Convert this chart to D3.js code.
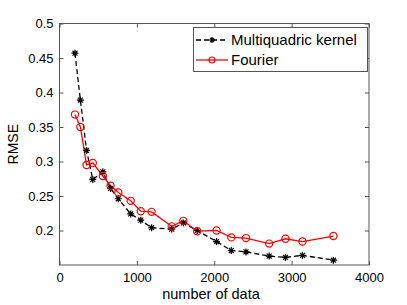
<!DOCTYPE html>
<html><head><meta charset="utf-8">
<script src="https://cdn.jsdelivr.net/npm/d3@7"></script>
<style>body{margin:0;background:#fff}svg{display:block}text{font-family:"Liberation Sans",Arial,sans-serif}</style>
</head><body><svg id="c" width="407" height="305"></svg>
<script>
const xData = [200, 270, 350, 430, 560, 660, 760, 920, 1050, 1190, 1450, 1600, 1780, 2030, 2220, 2410, 2710, 2920, 3140, 3540];
const multiquadric = [0.457, 0.389, 0.316, 0.274, 0.285, 0.261, 0.246, 0.224, 0.215, 0.204, 0.202, 0.211, 0.200, 0.184, 0.171, 0.169, 0.163, 0.161, 0.164, 0.157];
const fourier = [0.368, 0.350, 0.295, 0.298, 0.279, 0.265, 0.255, 0.243, 0.228, 0.227, 0.206, 0.214, 0.199, 0.200, 0.190, 0.189, 0.181, 0.188, 0.184, 0.192];
const xTicks = [0, 1000, 2000, 3000, 4000];
const yTicks = [0.2, 0.25, 0.3, 0.35, 0.4, 0.45, 0.5];
const seriesNames = ["Multiquadric kernel", "Fourier"];

const svg = d3.select("#c");
const L = 59.5, R = 369, T = 23.5, B = 265;
const x = d3.scaleLinear().domain([0, 4000]).range([L, R]);
const y = d3.scaleLinear().domain([0.15, 0.5]).range([B, T]);
const axisColor = "#555";

svg.append("rect").attr("x", L).attr("y", T).attr("width", R - L).attr("height", B - T)
  .attr("fill", "#fff").attr("stroke", axisColor).attr("stroke-width", 1);

const fmt = d => d3.format("")(d);
const gx = svg.append("g").attr("transform", `translate(0,${B})`)
  .call(d3.axisBottom(x).tickValues(xTicks).tickSize(-4).tickPadding(8).tickFormat(fmt));
const gx2 = svg.append("g").attr("transform", `translate(0,${T})`)
  .call(d3.axisTop(x).tickValues(xTicks).tickSize(-4).tickFormat(""));
const gy = svg.append("g").attr("transform", `translate(${L},0)`)
  .call(d3.axisLeft(y).tickValues(yTicks).tickSize(-4).tickPadding(6).tickFormat(fmt));
const gy2 = svg.append("g").attr("transform", `translate(${R},0)`)
  .call(d3.axisRight(y).tickValues(yTicks).tickSize(-4).tickFormat(""));
[gx, gx2, gy, gy2].forEach(g => {
  g.select(".domain").remove();
  g.selectAll("line").attr("stroke", axisColor);
  g.selectAll("text").attr("fill", "#000").style("font-size", "13px");
});

const line = d3.line().x((d, i) => x(xData[i])).y(d => y(d));
svg.append("path").datum(multiquadric).attr("d", line).attr("fill", "none")
  .attr("stroke", "#000").attr("stroke-width", 1.3).attr("stroke-dasharray", "5,3");
svg.append("path").datum(fourier).attr("d", line).attr("fill", "none")
  .attr("stroke", "#f00").attr("stroke-width", 1.3);

const starPath = (cx, cy, s) => {
  const d = s * 0.7;
  return `M${cx - s},${cy}L${cx + s},${cy}M${cx},${cy - s}L${cx},${cy + s}M${cx - d},${cy - d}L${cx + d},${cy + d}M${cx - d},${cy + d}L${cx + d},${cy - d}`;
};
svg.append("g").selectAll("path").data(multiquadric).join("path")
  .attr("d", (d, i) => starPath(x(xData[i]), y(d), 3.5))
  .attr("stroke", "#000").attr("stroke-width", 1.2).attr("fill", "none");
svg.append("g").selectAll("circle").data(fourier).join("circle")
  .attr("cx", (d, i) => x(xData[i])).attr("cy", d => y(d)).attr("r", 3.6)
  .attr("fill", "none").attr("stroke", "#f00").attr("stroke-width", 1.2);

svg.append("text").attr("x", 211).attr("y", 299).attr("text-anchor", "middle")
  .style("font-size", "14.5px").text("number of data");
svg.append("text").attr("transform", `translate(18,${(T + B) / 2}) rotate(-90)`)
  .attr("text-anchor", "middle").style("font-size", "14px").text("RMSE");

const lg = svg.append("g");
lg.append("rect").attr("x", 193.5).attr("y", 27.5).attr("width", 174).attr("height", 44)
  .attr("fill", "#fff").attr("stroke", axisColor);
const rows = [40, 60];
lg.append("line").attr("x1", 196).attr("x2", 228).attr("y1", rows[0]).attr("y2", rows[0])
  .attr("stroke", "#000").attr("stroke-width", 1.3).attr("stroke-dasharray", "5,3");
lg.append("path").attr("d", starPath(212, rows[0], 3)).attr("stroke", "#000").attr("stroke-width", 1.2);
lg.append("line").attr("x1", 196).attr("x2", 228).attr("y1", rows[1]).attr("y2", rows[1])
  .attr("stroke", "#f00").attr("stroke-width", 1.3);
lg.append("circle").attr("cx", 212).attr("cy", rows[1]).attr("r", 3).attr("fill", "none")
  .attr("stroke", "#f00").attr("stroke-width", 1.2);
seriesNames.forEach((n, i) => {
  lg.append("text").attr("x", 231).attr("y", rows[i]).attr("dy", "0.35em")
    .style("font-size", "15px").text(n);
});
</script></body></html>
